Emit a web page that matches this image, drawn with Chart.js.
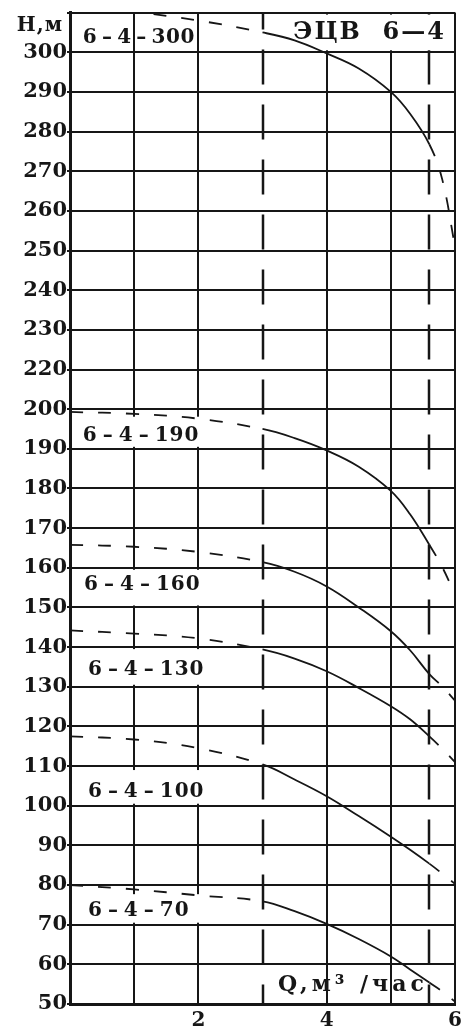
<!DOCTYPE html>
<html><head><meta charset="utf-8">
<script src="https://cdn.jsdelivr.net/npm/chart.js@4.4.0/dist/chart.umd.min.js"></script>
<style>html,body{margin:0;padding:0;background:#fff;}#wrap{width:472px;height:1030px;position:relative;}</style>
</head><body><div id="wrap"><canvas id="c"></canvas></div>
<script>
// ---- data (head H in metres, flow Q in m3/h) ----
const flowQ   = [0, 1, 2, 3, 3.5, 4, 4.5, 5, 5.3, 5.6, 5.8, 6];
const head300 = [312, 310.2, 308, 305, 303, 299.7, 295.9, 290, 284.5, 276.8, 268, 251];
const head190 = [199.3, 198.8, 197.6, 195, 192.7, 189.6, 185.5, 179.4, 173.5, 165.8, 160.2, 153.3];
const head160 = [165.8, 165.3, 164, 161.4, 159, 155.3, 150, 144, 139.2, 133.2, 130.1, 126.5];
const head130 = [144.2, 143.4, 142.2, 139.4, 137.1, 133.9, 129.7, 125.1, 121.8, 117.5, 114.4, 111];
const head100 = [117.5, 116.7, 114.5, 110.4, 106.6, 102.4, 97.4, 92.2, 88.9, 85.4, 82.9, 80.3];
const head70  = [80, 78.9, 77.4, 75.9, 73.4, 70.2, 66.4, 62, 58.7, 55.4, 53.2, 50.6];
const seriesNames = ['6–4–300', '6–4–190', '6–4–160', '6–4–130', '6–4–100', '6–4–70'];
const workRangeQ = [3, 5.6];
const xTickLabels = ['', '', '2', '', '4', '', '6'];
const yTickLabels = [50,60,70,80,90,100,110,120,130,140,150,160,170,180,190,200,220,230,240,250,260,270,280,290,300,''];
const axisBreakFrom = 200; // labels jump from 200 to 220

const allHeads = [head300, head190, head160, head130, head100, head70];
const toAxis = h => h > axisBreakFrom ? h - 10 : h;

const FONT = '"DejaVu Serif", "Liberation Serif", serif';
const INK = '#161616';
const TS = '\u2009';
const spaced = s => s.replace(/–/g, TS + '–' + TS);

const datasets = allHeads.map((arr, k) => ({
  label: seriesNames[k],
  data: flowQ.map((q, i) => ({x: q, y: toAxis(arr[i])})),
  borderColor: INK,
  borderWidth: 1.8,
  pointRadius: 0,
  fill: false,
  tension: 0.4,
  segment: {
    borderDash: c => (c.p1.parsed.x <= workRangeQ[0] || c.p0.parsed.x >= workRangeQ[1]) ? [13, 15] : undefined
  }
}));

// text annotations (position in axis units)
const notes = [
  {text: spaced(seriesNames[0]), q: 0.2,  h: 293.6, box: null, sp: 0.6},
  {text: 'ЭЦВ  6—4', q: 3.48, h: 294.9, box: [3.4, 6, 300, 290], size: 24, sp: 2},
  {text: spaced(seriesNames[1]), q: 0.2,  h: 193.4, box: [0, 2.12, 198.6, 190]},
  {text: spaced(seriesNames[2]), q: 0.22, h: 155.8, box: [0, 2.12, 160, 150]},
  {text: spaced(seriesNames[3]), q: 0.28, h: 134.3, box: [0, 2.12, 140, 130]},
  {text: spaced(seriesNames[4]), q: 0.28, h: 103.6, box: [0, 2.12, 109.5, 100]},
  {text: spaced(seriesNames[5]), q: 0.28, h: 73.6,  box: [0, 2.12, 78.2, 70]},
  {text: 'Q,м³ /час', q: 3.24, h: 54.6, box: null, size: 22, sp: 4}
];

const overlay = {
  id: 'overlay',
  beforeDatasetsDraw(chart) {
    const {ctx, chartArea: a, scales: {x, y}} = chart;
    ctx.save();
    // working range limits (dashed verticals)
    ctx.strokeStyle = INK; ctx.lineWidth = 2.5;
    ctx.setLineDash([35, 20]); ctx.lineDashOffset = 18;
    workRangeQ.forEach(q => {
      const px = Math.round(x.getPixelForValue(q));
      ctx.beginPath(); ctx.moveTo(px, a.top); ctx.lineTo(px, a.bottom); ctx.stroke();
    });
    ctx.setLineDash([]);
    // white label boxes
    ctx.fillStyle = '#fff';
    notes.forEach(n => {
      if (!n.box) return;
      const [q0, q1, h0, h1] = n.box;
      const x0 = x.getPixelForValue(q0) + 2, x1 = x.getPixelForValue(q1) - 2;
      const y0 = y.getPixelForValue(h0) + 2, y1 = y.getPixelForValue(h1) - 2;
      ctx.fillRect(x0, y0, x1 - x0, y1 - y0);
    });
    // texts
    ctx.fillStyle = INK; ctx.textAlign = 'left'; ctx.textBaseline = 'middle';
    notes.forEach(n => {
      ctx.font = 'bold ' + (n.size || 20) + 'px ' + FONT;
      ctx.letterSpacing = (n.sp == null ? 1 : n.sp) + 'px';
      ctx.fillText(n.text, x.getPixelForValue(n.q), y.getPixelForValue(n.h));
    });
    // axis title H,m
    ctx.font = 'bold 20px ' + FONT; ctx.letterSpacing = '1px'; ctx.textAlign = 'right';
    ctx.fillText('Н,м', a.left - 7, a.top + 13);
    ctx.restore();
  }
};

new Chart(document.getElementById('c'), {
  type: 'line',
  data: {datasets},
  options: {
    responsive: true, maintainAspectRatio: false, animation: false, devicePixelRatio: 1,
    layout: {padding: {top: 8, right: 17, left: 0, bottom: 0}},
    plugins: {legend: {display: false}, tooltip: {enabled: false}},
    scales: {
      x: {
        type: 'linear', min: 0, max: 6,
        afterFit: s => { s.height = 26; },
        border: {display: true, color: INK, width: 3},
        grid: {
          color: c => (c.tick && workRangeQ.includes(c.tick.value)) ? 'rgba(0,0,0,0)' : INK,
          lineWidth: 2, drawTicks: false
        },
        ticks: {
          stepSize: 1, padding: 5, color: INK, maxRotation: 0, autoSkip: false,
          font: {family: FONT, weight: 'bold', size: 20},
          callback: (v) => xTickLabels[Math.round(v)] ?? ''
        }
      },
      y: {
        type: 'linear', min: 50, max: 300,
        afterFit: s => { s.width = 70; },
        border: {display: true, color: INK, width: 3},
        grid: {color: INK, lineWidth: 2, drawTicks: true, tickLength: 3},
        ticks: {
          stepSize: 10, padding: 0, color: INK, autoSkip: false,
          font: {family: FONT, weight: 'bold', size: 21},
          callback: (v) => yTickLabels[Math.round((v - 50) / 10)]
        }
      }
    }
  },
  plugins: [overlay]
});
</script></body></html>
